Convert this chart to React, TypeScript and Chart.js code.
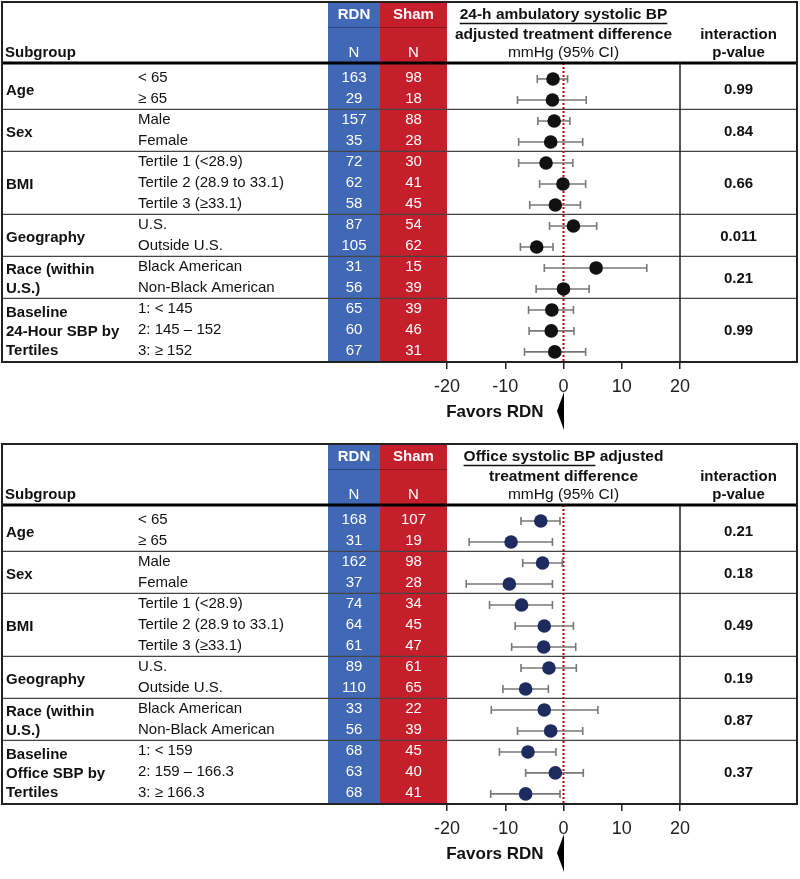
import React, { useEffect, useRef } from 'react';
import { Chart, registerables } from 'chart.js';

Chart.register(...registerables);

// ---------- data ----------
const groupSizes = [2, 2, 3, 2, 2, 3];
const abpmGroupNames = [['Age'], ['Sex'], ['BMI'], ['Geography'], ['Race (within', 'U.S.)'], ['Baseline', '24-Hour SBP by', 'Tertiles']];
const officeGroupNames = [['Age'], ['Sex'], ['BMI'], ['Geography'], ['Race (within', 'U.S.)'], ['Baseline', 'Office SBP by', 'Tertiles']];
const commonRowLabels = ['< 65', '≥ 65', 'Male', 'Female', 'Tertile 1 (<28.9)', 'Tertile 2 (28.9 to 33.1)', 'Tertile 3 (≥33.1)', 'U.S.', 'Outside U.S.', 'Black American', 'Non-Black American'];
const abpmTertileLabels = ['1: < 145', '2: 145 – 152', '3: ≥ 152'];
const officeTertileLabels = ['1: < 159', '2: 159 – 166.3', '3: ≥ 166.3'];

const abpmRdnN = [163, 29, 157, 35, 72, 62, 58, 87, 105, 31, 56, 65, 60, 67];
const abpmShamN = [98, 18, 88, 28, 30, 41, 45, 54, 62, 15, 39, 39, 46, 31];
const abpmEst = [-1.8, -1.9, -1.6, -2.2, -3.0, -0.1, -1.4, 1.7, -4.6, 5.6, 0.0, -2.0, -2.1, -1.5];
const abpmLo = [-4.5, -7.9, -4.4, -7.7, -7.7, -4.1, -5.8, -2.4, -7.4, -3.3, -4.7, -6.0, -5.9, -6.7];
const abpmHi = [0.7, 3.9, 1.1, 3.3, 1.6, 3.8, 2.9, 5.7, -1.8, 14.3, 4.4, 1.7, 1.8, 3.8];
const abpmP = ['0.99', '0.84', '0.66', '0.011', '0.21', '0.99'];

const officeRdnN = [168, 31, 162, 37, 74, 64, 61, 89, 110, 33, 56, 68, 63, 68];
const officeShamN = [107, 19, 98, 28, 34, 45, 47, 61, 65, 22, 39, 45, 40, 41];
const officeEst = [-3.9, -9.0, -3.6, -9.3, -7.2, -3.3, -3.4, -2.5, -6.5, -3.3, -2.2, -6.1, -1.4, -6.5];
const officeLo = [-7.3, -16.2, -7.0, -16.7, -12.7, -8.3, -8.9, -7.3, -10.4, -12.4, -7.9, -11.0, -6.5, -12.5];
const officeHi = [-0.6, -1.9, -0.2, -1.9, -1.9, 1.7, 2.1, 2.2, -2.6, 5.9, 3.3, -1.3, 3.4, -0.6];
const officeP = ['0.21', '0.18', '0.49', '0.19', '0.87', '0.37'];

const xMin = -20;
const xMax = 20;
const xStep = 10;

// ---------- styles ----------
const FONT = '"Liberation Sans", Arial, Helvetica, sans-serif';
const BLUE = '#4068B4';
const RED = '#C41F2A';
const LINE = '#222';

type HeadPart = { text: string; underline: boolean };

interface PanelProps {
  top: number;
  est: number[];
  lo: number[];
  hi: number[];
  rdn: number[];
  sham: number[];
  p: string[];
  groupNames: string[][];
  rowLabels: string[];
  head1: HeadPart[];
  head2: string;
  dotColor: string;
}

function makePlugin(props: PanelProps) {
  return {
    id: 'forestTable',
    beforeDraw(chart: any) {
      const { ctx, chartArea, scales } = chart;
      const yS = scales.y;
      const xS = scales.x;
      const L = 2, R = 797, T = 2, B = chartArea.bottom;
      ctx.save();
      ctx.fillStyle = '#fff';
      ctx.fillRect(0, 0, chart.width, chart.height);
      ctx.fillStyle = BLUE;
      ctx.fillRect(328, T, 52, B - T);
      ctx.fillStyle = RED;
      ctx.fillRect(380, T, chartArea.left - 380, B - T);
      // header divider in N columns
      ctx.strokeStyle = 'rgba(0,0,0,0.3)';
      ctx.lineWidth = 1;
      ctx.beginPath();
      ctx.moveTo(328, 27.5);
      ctx.lineTo(chartArea.left, 27.5);
      ctx.stroke();
      // group separators
      ctx.strokeStyle = '#444';
      ctx.lineWidth = 1.3;
      let idx = 0;
      groupSizes.forEach((n, gi) => {
        idx += n;
        if (gi < groupSizes.length - 1) {
          const y = (yS.getPixelForValue(idx - 1) + yS.getPixelForValue(idx)) / 2 - 1;
          ctx.beginPath();
          ctx.moveTo(L, y);
          ctx.lineTo(R, y);
          ctx.stroke();
        }
      });
      // zero reference line
      const x0 = xS.getPixelForValue(0);
      ctx.strokeStyle = '#C00000';
      ctx.lineWidth = 2;
      ctx.setLineDash([2, 2]);
      ctx.beginPath();
      ctx.moveTo(x0, chartArea.top);
      ctx.lineTo(x0, B);
      ctx.stroke();
      ctx.setLineDash([]);
      ctx.restore();
    },
    afterDraw(chart: any) {
      const { ctx, chartArea, scales } = chart;
      const yS = scales.y;
      const xS = scales.x;
      const L = 2, R = 797, T = 2, B = chartArea.bottom;
      const pL = chartArea.right;
      ctx.save();
      // thick header line
      ctx.strokeStyle = '#000';
      ctx.lineWidth = 3;
      ctx.beginPath();
      ctx.moveTo(L, chartArea.top);
      ctx.lineTo(R, chartArea.top);
      ctx.stroke();
      // p-value column divider
      ctx.strokeStyle = LINE;
      ctx.lineWidth = 1.5;
      ctx.beginPath();
      ctx.moveTo(pL, chartArea.top);
      ctx.lineTo(pL, B);
      ctx.stroke();
      // outer border
      ctx.lineWidth = 2;
      ctx.strokeRect(L, T, R - L, B - T);

      const txt = (s: string, x: number, y: number, font: string, color: string, align: CanvasTextAlign) => {
        ctx.font = font;
        ctx.fillStyle = color;
        ctx.textAlign = align;
        ctx.textBaseline = 'middle';
        ctx.fillText(s, x, y);
      };
      const bold = `bold 15px ${FONT}`;
      const norm = `15px ${FONT}`;
      const hBold = `bold 15.5px ${FONT}`;
      const hNorm = `15.5px ${FONT}`;

      // headers
      txt('Subgroup', 5, 53, bold, '#111', 'left');
      txt('RDN', 354, 15, bold, '#fff', 'center');
      txt('Sham', 413.5, 15, bold, '#fff', 'center');
      txt('N', 354, 53, norm, '#fff', 'center');
      txt('N', 413.5, 53, norm, '#fff', 'center');
      const cx = xS.getPixelForValue(0);
      ctx.font = hBold;
      const widths = props.head1.map((h) => ctx.measureText(h.text).width);
      const total = widths.reduce((a, b) => a + b, 0);
      let sx = cx - total / 2;
      props.head1.forEach((h, i) => {
        txt(h.text, sx, 15, hBold, '#111', 'left');
        if (h.underline) {
          ctx.strokeStyle = '#111';
          ctx.lineWidth = 1.3;
          ctx.beginPath();
          ctx.moveTo(sx, 23.5);
          ctx.lineTo(sx + widths[i], 23.5);
          ctx.stroke();
        }
        sx += widths[i];
      });
      txt(props.head2, cx, 34.5, hBold, '#111', 'center');
      txt('mmHg (95% CI)', cx, 53, hNorm, '#111', 'center');
      const pc = (pL + R) / 2;
      txt('interaction', pc, 35, bold, '#111', 'center');
      txt('p-value', pc, 53, bold, '#111', 'center');

      // rows
      props.rowLabels.forEach((lab, i) => {
        const y = yS.getPixelForValue(i) - 1.5;
        txt(lab, 138, y, norm, '#111', 'left');
        txt(String(props.rdn[i]), 354, y, norm, '#fff', 'center');
        txt(String(props.sham[i]), 413.5, y, norm, '#fff', 'center');
      });
      // groups
      let idx = 0;
      groupSizes.forEach((n, gi) => {
        const yc = (yS.getPixelForValue(idx) + yS.getPixelForValue(idx + n - 1)) / 2;
        const lines = props.groupNames[gi];
        const lh = 19;
        lines.forEach((ln, k) => {
          txt(ln, 6, yc + 1 + (k - (lines.length - 1) / 2) * lh, bold, '#111', 'left');
        });
        txt(props.p[gi], pc, yc, bold, '#111', 'center');
        idx += n;
      });

      // favors label and arrow
      txt('Favors RDN', cx - 20, B + 50, `bold 17px ${FONT}`, '#111', 'right');
      ctx.fillStyle = '#000';
      ctx.beginPath();
      ctx.moveTo(cx + 0.5, B + 30);
      ctx.lineTo(cx - 6.5, B + 49);
      ctx.lineTo(cx + 0.5, B + 68);
      ctx.closePath();
      ctx.fill();
      ctx.restore();
    },
  };
}

function Panel(props: PanelProps) {
  const ref = useRef<HTMLCanvasElement>(null);
  useEffect(() => {
    if (!ref.current) return;
    const ciSets = props.est.map((_, i) => ({
      data: [
        { x: props.lo[i], y: i },
        { x: props.hi[i], y: i },
      ],
      showLine: true,
      borderColor: '#777',
      borderWidth: 1.6,
      pointStyle: 'line',
      pointRotation: 90,
      pointRadius: 4,
      pointBorderColor: '#777',
      pointBorderWidth: 1.6,
      order: 1,
    }));
    const dotSet = {
      data: props.est.map((v, i) => ({ x: v, y: i })),
      showLine: false,
      pointStyle: 'circle',
      pointRadius: 6.8,
      pointBackgroundColor: props.dotColor,
      pointBorderColor: props.dotColor,
      pointBorderWidth: 0,
      order: 0,
    };
    const chart = new Chart(ref.current, {
      type: 'scatter',
      data: { datasets: [dotSet, ...ciSets] as any },
      plugins: [makePlugin(props) as any],
      options: {
        responsive: false,
        animation: false,
        devicePixelRatio: 1,
        events: [],
        layout: { padding: { left: 447, right: 120, top: 63, bottom: 0 } },
        plugins: { legend: { display: false }, tooltip: { enabled: false } },
        scales: {
          x: {
            type: 'linear',
            min: xMin,
            max: xMax,
            ticks: {
              stepSize: xStep,
              font: { size: 18, family: FONT },
              color: '#222',
              padding: 7,
            },
            grid: { drawOnChartArea: false, drawTicks: true, tickLength: 7, color: '#222', lineWidth: 1.5 },
            border: { display: true, color: '#222', width: 2 },
            afterFit: (s: any) => {
              s.height = 80;
            },
          },
          y: {
            type: 'linear',
            display: false,
            reverse: true,
            min: -0.76,
            max: 13.48,
          },
        },
      } as any,
    });
    return () => chart.destroy();
  }, []);
  return (
    <canvas
      ref={ref}
      width={800}
      height={442}
      style={{ display: 'block', position: 'absolute', left: 0, top: props.top, width: 800, height: 442 }}
    />
  );
}

export default function App() {
  return (
    <div style={{ position: 'absolute', left: 0, top: 0, width: 800, height: 879, overflow: 'hidden', background: '#fff' }}>
      <Panel
        top={0}
        est={abpmEst}
        lo={abpmLo}
        hi={abpmHi}
        rdn={abpmRdnN}
        sham={abpmShamN}
        p={abpmP}
        groupNames={abpmGroupNames}
        rowLabels={[...commonRowLabels, ...abpmTertileLabels]}
        head1={[{ text: '24-h ambulatory systolic BP', underline: true }]}
        head2="adjusted treatment difference"
        dotColor="#111"
      />
      <Panel
        top={442}
        est={officeEst}
        lo={officeLo}
        hi={officeHi}
        rdn={officeRdnN}
        sham={officeShamN}
        p={officeP}
        groupNames={officeGroupNames}
        rowLabels={[...commonRowLabels, ...officeTertileLabels]}
        head1={[
          { text: 'Office systolic BP', underline: true },
          { text: ' adjusted', underline: false },
        ]}
        head2="treatment difference"
        dotColor="#1E2B5E"
      />
    </div>
  );
}
